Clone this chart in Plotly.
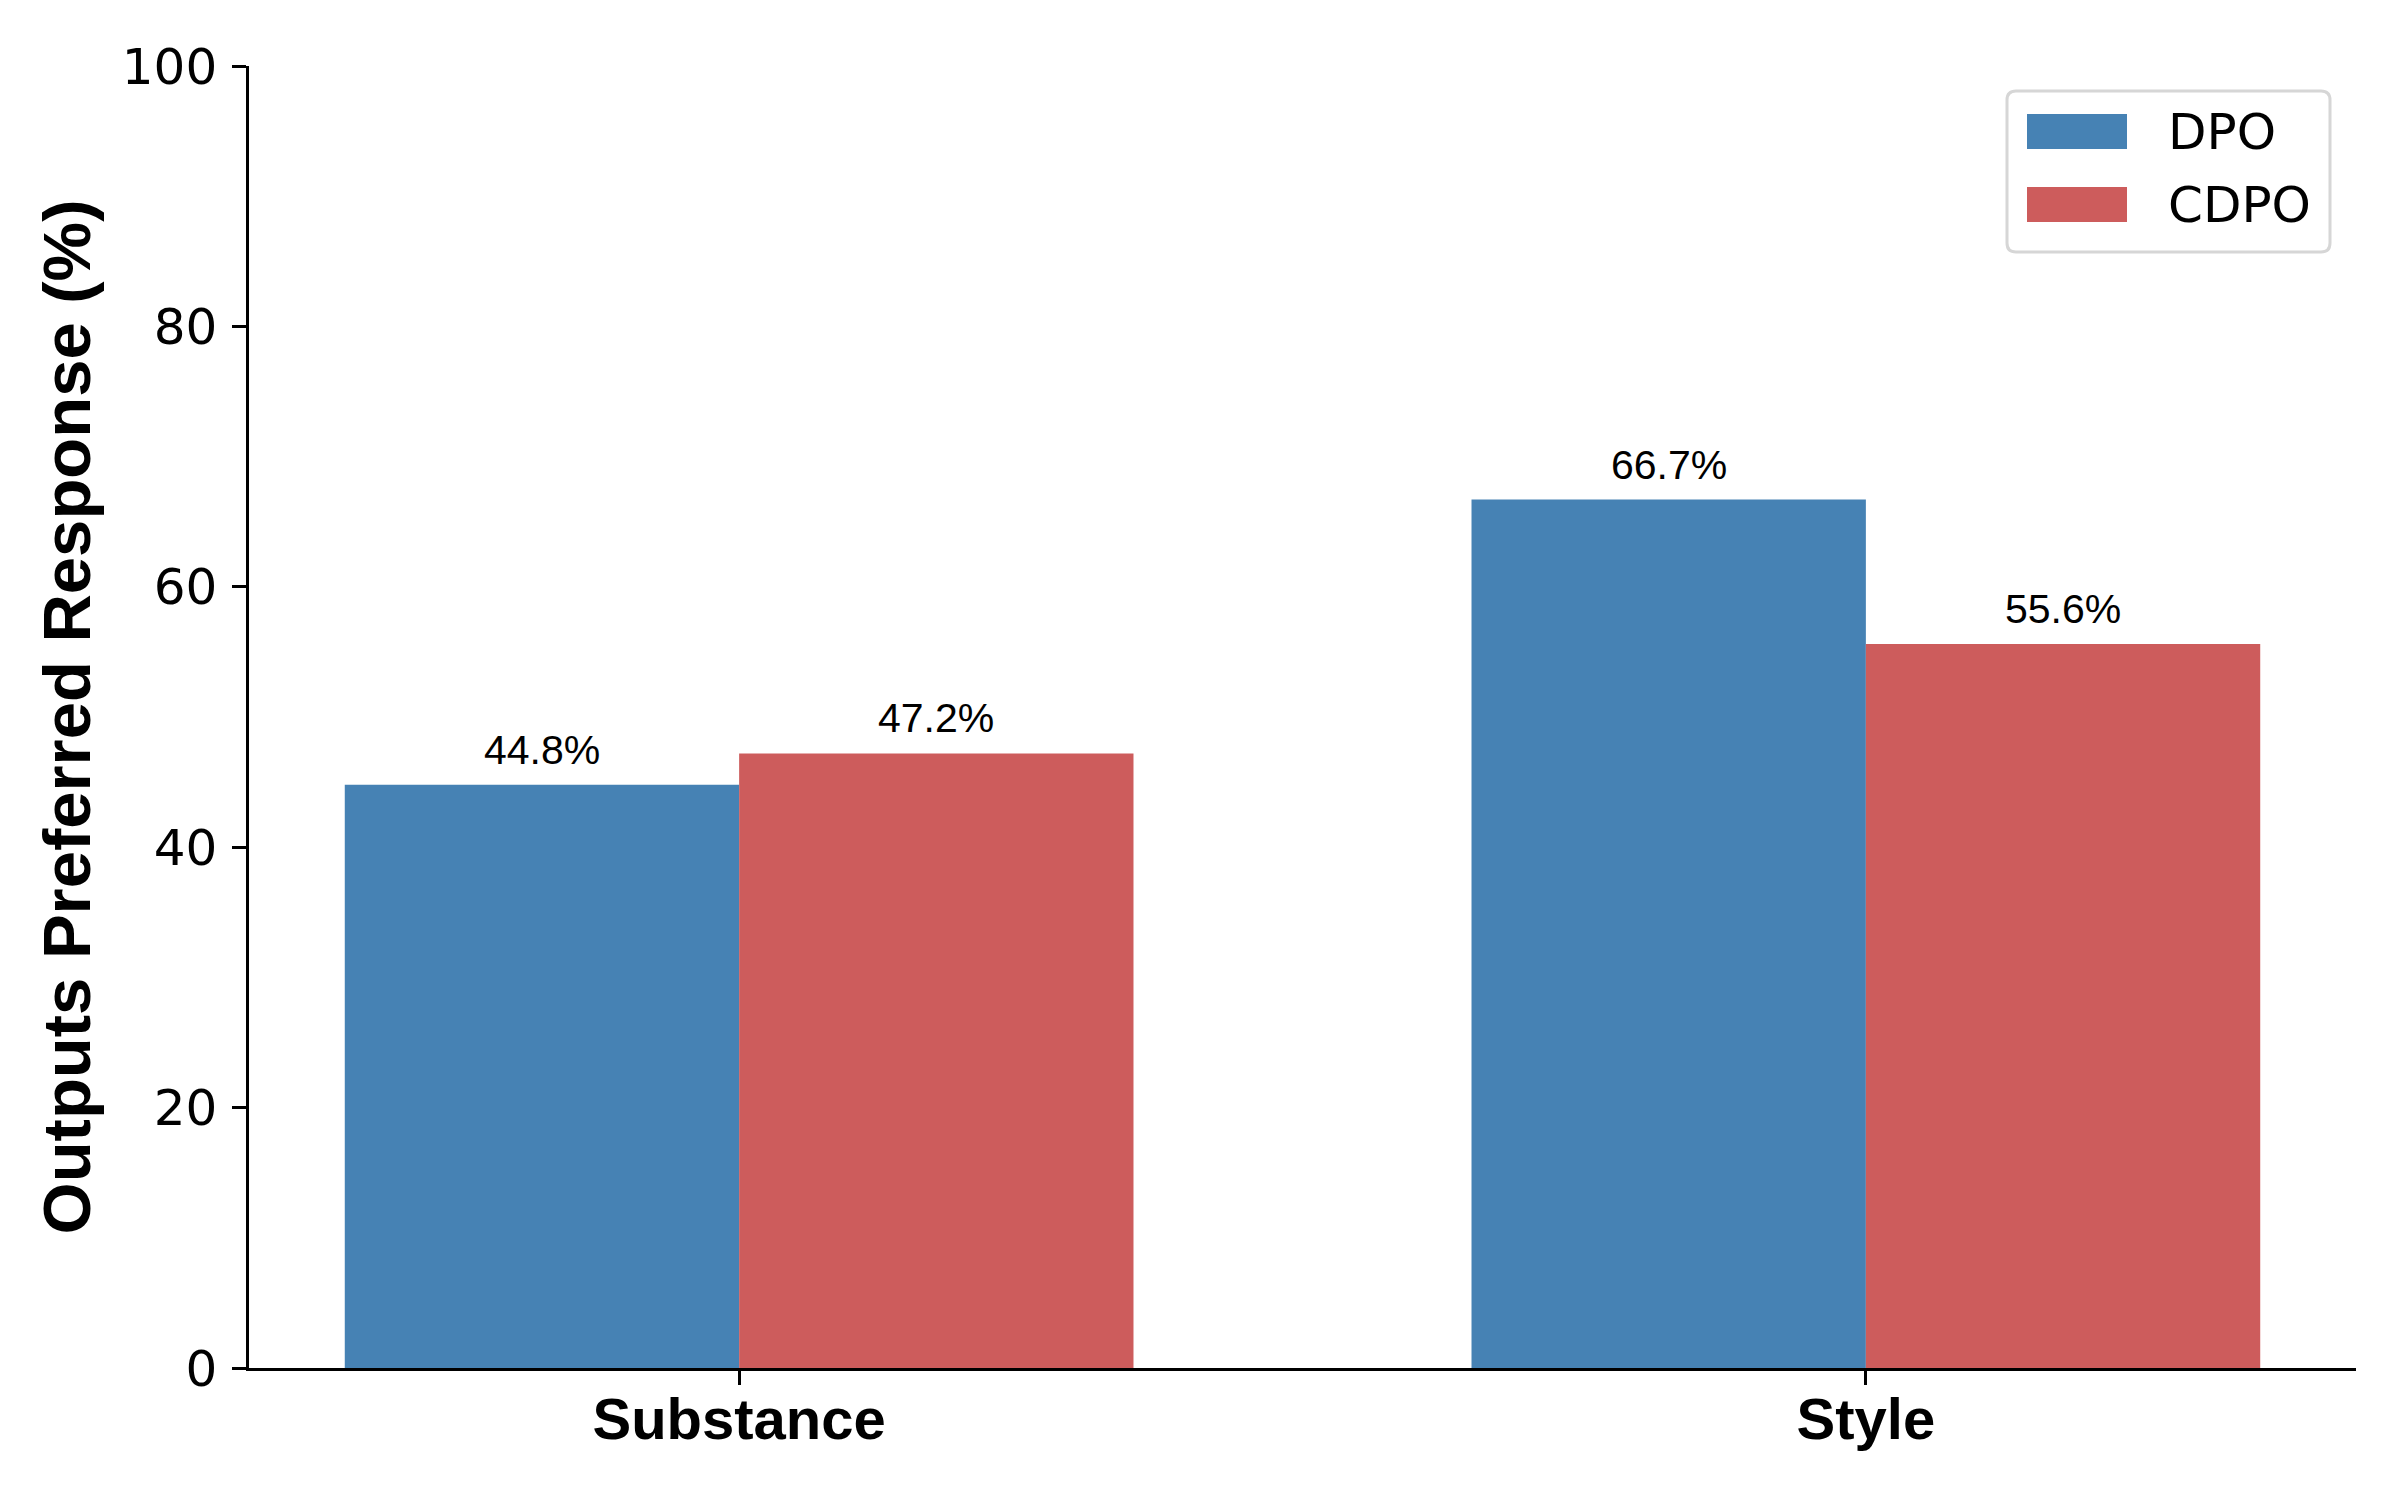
import plotly.graph_objects as go

categories = ["Substance", "Style"]
series_names = ["DPO", "CDPO"]
dpo_values = [44.8, 66.7]
cdpo_values = [47.2, 55.6]
series_colors = ["#4682B4", "#CD5C5C"]
y_ticks = [0, 20, 40, 60, 80, 100]

W, H = 2400, 1500
OFF = 8  # page body margin
L, R, T, B = 249 - OFF, 44 + OFF, 66 - OFF, 132 + OFF
pw, ph = W - L - R, H - T - B

def px(x):
    return (x - OFF - L) / pw

def py(y):
    return (H - B - (y - OFF)) / ph

xpos = list(range(len(categories)))
bar_w = 0.35

fig = go.Figure()
all_vals = [dpo_values, cdpo_values]
for k, (name, vals, col) in enumerate(zip(series_names, all_vals, series_colors)):
    fig.add_trace(go.Bar(
        x=xpos, y=vals, name=name, marker=dict(color=col, line=dict(width=0)),
        showlegend=False,
    ))

annotations = []
for k, vals in enumerate(all_vals):
    off = (k - 0.5) * bar_w
    for i, v in enumerate(vals):
        annotations.append(dict(
            x=xpos[i] + off, y=v, xref="x", yref="y", text=f"{v:.1f}%",
            showarrow=False, yanchor="bottom", xanchor="center", yshift=10,
            font=dict(family="Liberation Sans", size=41, color="black"),
        ))

# custom legend
lx0, lx1 = px(2007), px(2330)
ly0, ly1 = py(252), py(91)
rx, ry = 9 / pw, 9 / ph
legend_path = (
    f"M {lx0+rx},{ly1} L {lx1-rx},{ly1} Q {lx1},{ly1} {lx1},{ly1-ry} "
    f"L {lx1},{ly0+ry} Q {lx1},{ly0} {lx1-rx},{ly0} "
    f"L {lx0+rx},{ly0} Q {lx0},{ly0} {lx0},{ly0+ry} "
    f"L {lx0},{ly1-ry} Q {lx0},{ly1} {lx0+rx},{ly1} Z"
)
shapes = [dict(type="path", xref="paper", yref="paper", path=legend_path,
               line=dict(color="#d6d6d6", width=3), fillcolor="white", layer="above")]
sw_rows = [(114, 149), (187, 222)]
for (top, bot), name, col in zip(sw_rows, series_names, series_colors):
    shapes.append(dict(type="rect", xref="paper", yref="paper",
                       x0=px(2027), x1=px(2127), y0=py(bot), y1=py(top),
                       fillcolor=col, line=dict(width=0), layer="above"))
    annotations.append(dict(
        x=px(2166), y=py((top + bot) / 2), xref="paper", yref="paper",
        text=name, showarrow=False, xanchor="left", yanchor="middle",
        font=dict(family="DejaVu Sans", size=50, color="black"),
    ))

fig.update_layout(
    width=W, height=H,
    margin=dict(l=L, r=R, t=T, b=B, autoexpand=False),
    paper_bgcolor="white", plot_bgcolor="white",
    barmode="group", bargap=0.3, bargroupgap=0,
    shapes=shapes, annotations=annotations,
    showlegend=False,
)
fig.update_xaxes(
    range=[-0.435, 1.435], tickmode="array", tickvals=xpos, ticktext=categories,
    showline=True, linecolor="black", linewidth=2.5, ticks="outside", ticklen=14,
    tickwidth=2.5, tickcolor="black", showgrid=False, zeroline=False,
    tickfont=dict(family="Liberation Sans", size=58, color="black", weight="bold"),
    ticklabelstandoff=-15,
)
fig.update_yaxes(
    range=[0, 100], tickmode="array", tickvals=y_ticks,
    showline=True, linecolor="black", linewidth=2.5, ticks="outside", ticklen=14,
    tickwidth=2.5, tickcolor="black", showgrid=False, zeroline=False,
    tickfont=dict(family="DejaVu Sans", size=50, color="black"),
    ticklabelstandoff=5,
    title=dict(text="Outputs Preferred Response (%)", standoff=10,
               font=dict(family="Liberation Sans", size=67, color="black", weight="bold")),
)

fig.write_html("out.html")
